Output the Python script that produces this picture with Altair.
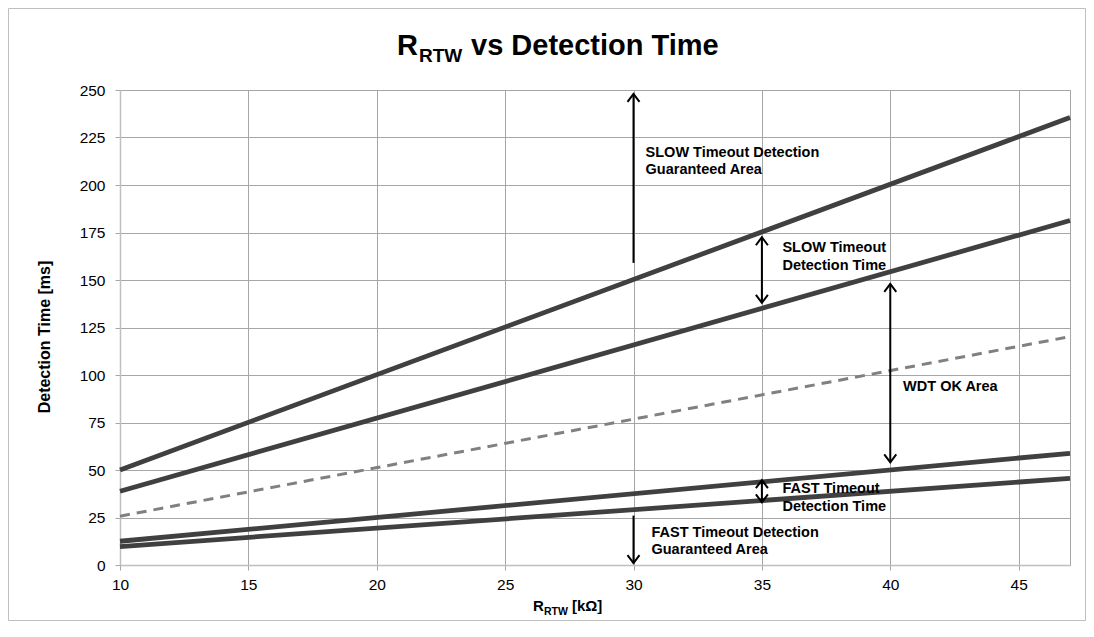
import altair as alt
import pandas as pd

FONT = "Liberation Sans"

# ---------------- data ----------------
r_points = [10, 47]
series_names = ["SLOW max", "SLOW min", "Typical", "FAST max", "FAST min"]
slow_max = [50.0, 235.5]
slow_min = [38.8, 181.3]
typical = [25.7, 120.2]
fast_max = [12.5, 58.8]
fast_min = [9.7, 45.6]
series_vals = [slow_max, slow_min, typical, fast_max, fast_min]
series_dashed = [False, False, True, False, False]

x_ticks = [10, 15, 20, 25, 30, 35, 40, 45]
y_ticks = [0, 25, 50, 75, 100, 125, 150, 175, 200, 225, 250]

# annotation texts (left edge r, centre t)
note_lines = ["SLOW Timeout Detection", "Guaranteed Area",
              "SLOW Timeout", "Detection Time",
              "WDT OK Area",
              "FAST Timeout", "Detection Time",
              "FAST Timeout Detection", "Guaranteed Area"]
note_r = [30.47, 30.47, 35.8, 35.8, 40.5, 35.8, 35.8, 30.7, 30.7]
note_t = [216.8, 207.9, 166.8, 157.4, 93.7, 40.0, 30.5, 16.8, 7.9]

# arrows: shaft from t1 to t2 at r
arrow_r = [30, 35, 40, 35, 30]
arrow_t1 = [159, 138, 54, 33, 26]
arrow_t2 = [248, 172.5, 148, 44.7, 1]
head_up_r = [30, 35, 40, 35]
head_up_t = [248, 172.5, 148, 44.7]
head_down_r = [35, 40, 35, 30]
head_down_t = [138, 54, 33, 1]

title_main = "R"
title_sub = "RTW"
title_rest = "vs Detection Time"
xtitle_main = "R"
xtitle_sub = "RTW"
xtitle_rest = "[kΩ]"
ytitle = "Detection Time [ms]"

# ---------------- tables ----------------
rows = []
for name, vals, d in zip(series_names, series_vals, series_dashed):
    for r, t in zip(r_points, vals):
        rows.append({"series": name, "r": r, "t": t, "dashed": d})
lines_df = pd.DataFrame(rows)
notes_df = pd.DataFrame({"r": note_r, "t": note_t, "label": note_lines})
arrows_df = pd.DataFrame({"r": arrow_r, "t": arrow_t1, "t2": arrow_t2})
up_df = pd.DataFrame({"r": head_up_r, "t": head_up_t})
down_df = pd.DataFrame({"r": head_down_r, "t": head_down_t})
dummy = pd.DataFrame({"k": [0]})

x_scale = alt.Scale(domain=[10, 47], nice=False, zero=False)
y_scale = alt.Scale(domain=[0, 250], nice=False)
x_axis = alt.Axis(values=x_ticks, title=None, labelFontSize=15.5, labelFont=FONT,
                  labelColor="#000000", tickColor="#a6a6a6", tickSize=5,
                  labelPadding=7, gridColor="#a6a6a6", domainColor="#bfbfbf",
                  domainWidth=1.5, labelFlush=False)
y_axis = alt.Axis(values=y_ticks, title=None, labelFontSize=15.5, labelFont=FONT,
                  labelColor="#000000", tickColor="#a6a6a6", tickSize=5,
                  labelPadding=10, gridColor="#a6a6a6", domainColor="#bfbfbf",
                  domainWidth=1.5)
X = alt.X("r:Q", scale=x_scale, axis=x_axis)
Y = alt.Y("t:Q", scale=y_scale, axis=y_axis)

solid = alt.Chart(lines_df).transform_filter("!datum.dashed").mark_line(
    color="#404040", strokeWidth=4.8, strokeCap="butt"
).encode(x=X, y=Y, detail="series:N")

dash = alt.Chart(lines_df).transform_filter("datum.dashed").mark_line(
    color="#808080", strokeWidth=3, strokeDash=[10, 7], strokeCap="butt"
).encode(x=X, y=Y, detail="series:N")

shafts = alt.Chart(arrows_df).mark_rule(color="black", strokeWidth=2).encode(
    x=X, y=Y, y2="t2:Q")

UP = "M-0.75,1L0,0L0.75,1"
DOWN = "M-0.75,-1L0,0L0.75,-1"
heads_up = alt.Chart(up_df).mark_point(shape=UP, size=256, filled=False, stroke="black",
                                       strokeWidth=2, opacity=1).encode(x=X, y=Y)
heads_down = alt.Chart(down_df).mark_point(shape=DOWN, size=256, filled=False, stroke="black",
                                           strokeWidth=2, opacity=1).encode(x=X, y=Y)

notes = alt.Chart(notes_df).mark_text(
    align="left", baseline="middle", font=FONT, fontSize=14.5, fontWeight="bold", color="black"
).encode(x=X, y=Y, text="label:N")


def txt(s, x, y, size, angle=0, align="left", baseline="alphabetic"):
    kw = dict(text=s, align=align, baseline=baseline, font=FONT, fontSize=size,
              fontWeight="bold", color="black")
    if angle:
        kw["angle"] = angle
    return alt.Chart(dummy).mark_text(**kw).encode(x=alt.value(x), y=alt.value(y))


title_layers = [
    txt(title_main, 277, -35, 29),
    txt(title_sub, 299, -28, 19),
    txt(title_rest, 351, -35, 29),
    txt(xtitle_main, 413, 521, 15),
    txt(xtitle_sub, 424, 525, 10.5),
    txt(xtitle_rest, 452, 521, 15),
    txt(ytitle, -75, 247, 16, angle=270, align="center", baseline="middle"),
]

frame = alt.Chart(dummy).mark_rect(fillOpacity=0, stroke="#bfbfbf", strokeWidth=1).encode(
    x=alt.value(-111.5), x2=alt.value(965.5), y=alt.value(-81.5), y2=alt.value(530.5))

chart = alt.layer(solid, dash, shafts, heads_up, heads_down, notes, *title_layers, frame).properties(
    width=950, height=475,
    autosize=alt.AutoSizeParams(type="none"),
    padding={"left": 112, "top": 82, "right": 16, "bottom": 56},
    background="white",
).configure_view(stroke="#a6a6a6", strokeWidth=1)

chart.save("out.html", embed_options={"renderer": "svg", "actions": False})
